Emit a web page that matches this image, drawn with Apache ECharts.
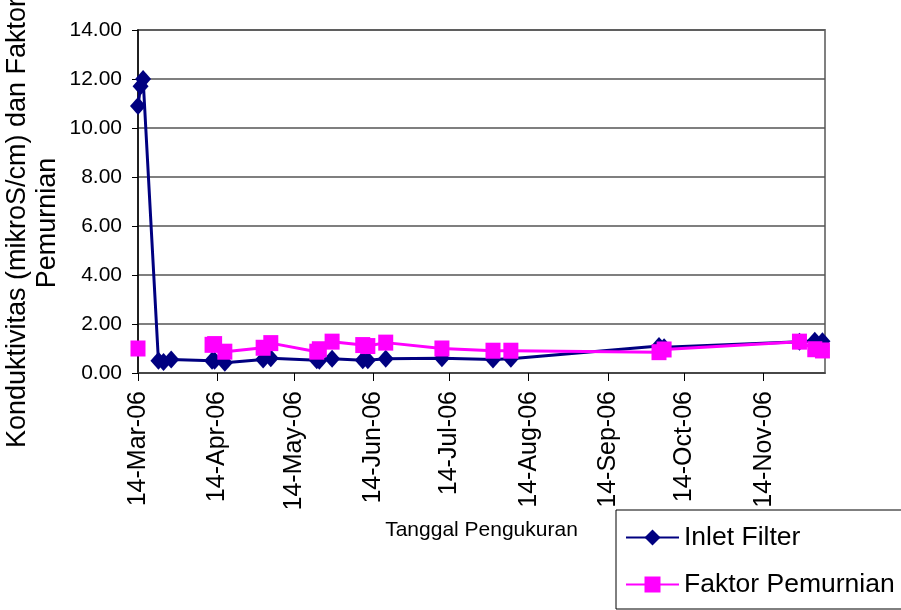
<!DOCTYPE html>
<html>
<head>
<meta charset="utf-8">
<script src="https://cdn.jsdelivr.net/npm/echarts@6/dist/echarts.min.js"></script>
<style>
  html, body { margin: 0; padding: 0; background: #ffffff; }
  #chart { width: 901px; height: 610px; }
</style>
</head>
<body>
<div id="chart"></div>
<script>
// Measurement dates (2006)
const dates = [
  '2006-03-14', '2006-03-15', '2006-03-16', '2006-03-22', '2006-03-24', '2006-03-27',
  '2006-04-12', '2006-04-13', '2006-04-17', '2006-05-02', '2006-05-05',
  '2006-05-23', '2006-05-24', '2006-05-29', '2006-06-10', '2006-06-12', '2006-06-19',
  '2006-07-11', '2006-07-31', '2006-08-07', '2006-10-04', '2006-10-06',
  '2006-11-28', '2006-12-04', '2006-12-07'
];

// Conductivity at the filter inlet (mikroS/cm)
const inletFilter = [
  10.9, 11.7, 12.0, 0.5, 0.45, 0.55,
  0.5, 0.5, 0.42, 0.55, 0.6,
  0.52, 0.5, 0.58, 0.52, 0.52, 0.58,
  0.6, 0.55, 0.58, 1.1, 1.05,
  1.28, 1.32, 1.3
];

// Purification factor (null = not measured)
const faktorPemurnian = [
  1.0, null, null, null, null, null,
  1.15, 1.18, 0.87, 1.03, 1.22,
  0.87, 0.97, 1.28, 1.14, 1.10, 1.24,
  1.0, 0.91, 0.91, 0.85, 0.96,
  1.28, 0.97, 0.92
];

// Date-axis ticks and their labels
const xTickDates = [
  '2006-03-14', '2006-04-14', '2006-05-14', '2006-06-14', '2006-07-14',
  '2006-08-14', '2006-09-14', '2006-10-14', '2006-11-14'
];
const xTickLabels = [
  '14-Mar-06', '14-Apr-06', '14-May-06', '14-Jun-06', '14-Jul-06',
  '14-Aug-06', '14-Sep-06', '14-Oct-06', '14-Nov-06'
];
const xMin = '2006-03-14';
const xMax = '2006-12-08';

const seriesNames = ['Inlet Filter', 'Faktor Pemurnian'];
const xTitle = 'Tanggal Pengukuran';
const yTitle = 'Konduktivitas (mikroS/cm) dan Faktor\nPemurnian';

// Dates are placed on a numeric axis measured in milliseconds
function toTime(s) {
  const p = s.split('-').map(Number);
  return Date.UTC(p[0], p[1] - 1, p[2]);
}

const tickTimes = xTickDates.map(toTime);
function labelFor(v) {
  const i = tickTimes.indexOf(v);
  return i >= 0 ? xTickLabels[i] : '';
}

function pairs(values) {
  return dates.map((d, i) => [toTime(d), values[i] == null ? '-' : values[i]]);
}

const font = 'Liberation Sans, Arial, sans-serif';

const chart = echarts.init(document.getElementById('chart'), null, { renderer: 'canvas' });

chart.setOption({
  backgroundColor: '#ffffff',
  animation: false,
  grid: {
    left: 138, right: 76, top: 30, bottom: 237,
    show: true, borderColor: '#808080', borderWidth: 2, backgroundColor: 'transparent'
  },
  xAxis: {
    type: 'value',
    min: toTime(xMin),
    max: toTime(xMax),
    name: xTitle,
    nameLocation: 'middle',
    nameGap: 147,
    nameTextStyle: { fontFamily: font, fontSize: 21, color: '#000' },
    axisLine: { show: true, lineStyle: { color: '#404040', width: 1.5 } },
    axisTick: { show: true, length: 8, customValues: tickTimes, lineStyle: { color: '#000', width: 1 } },
    axisLabel: {
      customValues: tickTimes,
      rotate: 90,
      margin: 18,
      fontFamily: font,
      fontSize: 25,
      color: '#000',
      formatter: labelFor
    },
    splitLine: { show: false }
  },
  yAxis: {
    type: 'value',
    min: 0,
    max: 14,
    interval: 2,
    axisLine: { show: true, lineStyle: { color: '#000', width: 1.5 } },
    axisTick: { show: true, length: 6, lineStyle: { color: '#000' } },
    axisLabel: {
      margin: 16,
      fontFamily: font,
      fontSize: 21,
      color: '#000',
      formatter: v => v.toFixed(2)
    },
    splitLine: { show: true, lineStyle: { color: '#555', width: 1.5 } }
  },
  legend: {
    orient: 'vertical',
    left: 616,
    top: 510,
    backgroundColor: '#ffffff',
    borderColor: '#000',
    borderWidth: 1,
    padding: [14, 24, 11, 9],
    itemWidth: 53,
    itemHeight: 20,
    itemGap: 20,
    textStyle: { fontFamily: font, fontSize: 26.5, color: '#000' },
    data: seriesNames
  },
  graphic: [{
    type: 'text',
    x: 33,
    y: 223,
    rotation: Math.PI / 2,
    style: {
      text: yTitle,
      font: '27px ' + font,
      fill: '#000',
      align: 'center',
      verticalAlign: 'middle',
      lineHeight: 30
    }
  }],
  series: [
    {
      name: seriesNames[0],
      type: 'line',
      data: pairs(inletFilter),
      connectNulls: false,
      symbol: 'diamond',
      symbolSize: [16, 18],
      itemStyle: { color: '#000080' },
      lineStyle: { color: '#000080', width: 3 },
      z: 2
    },
    {
      name: seriesNames[1],
      type: 'line',
      data: pairs(faktorPemurnian),
      connectNulls: false,
      symbol: 'rect',
      symbolSize: [15, 16],
      itemStyle: { color: '#ff00ff' },
      lineStyle: { color: '#ff00ff', width: 3 },
      z: 3
    }
  ]
});
</script>
</body>
</html>
